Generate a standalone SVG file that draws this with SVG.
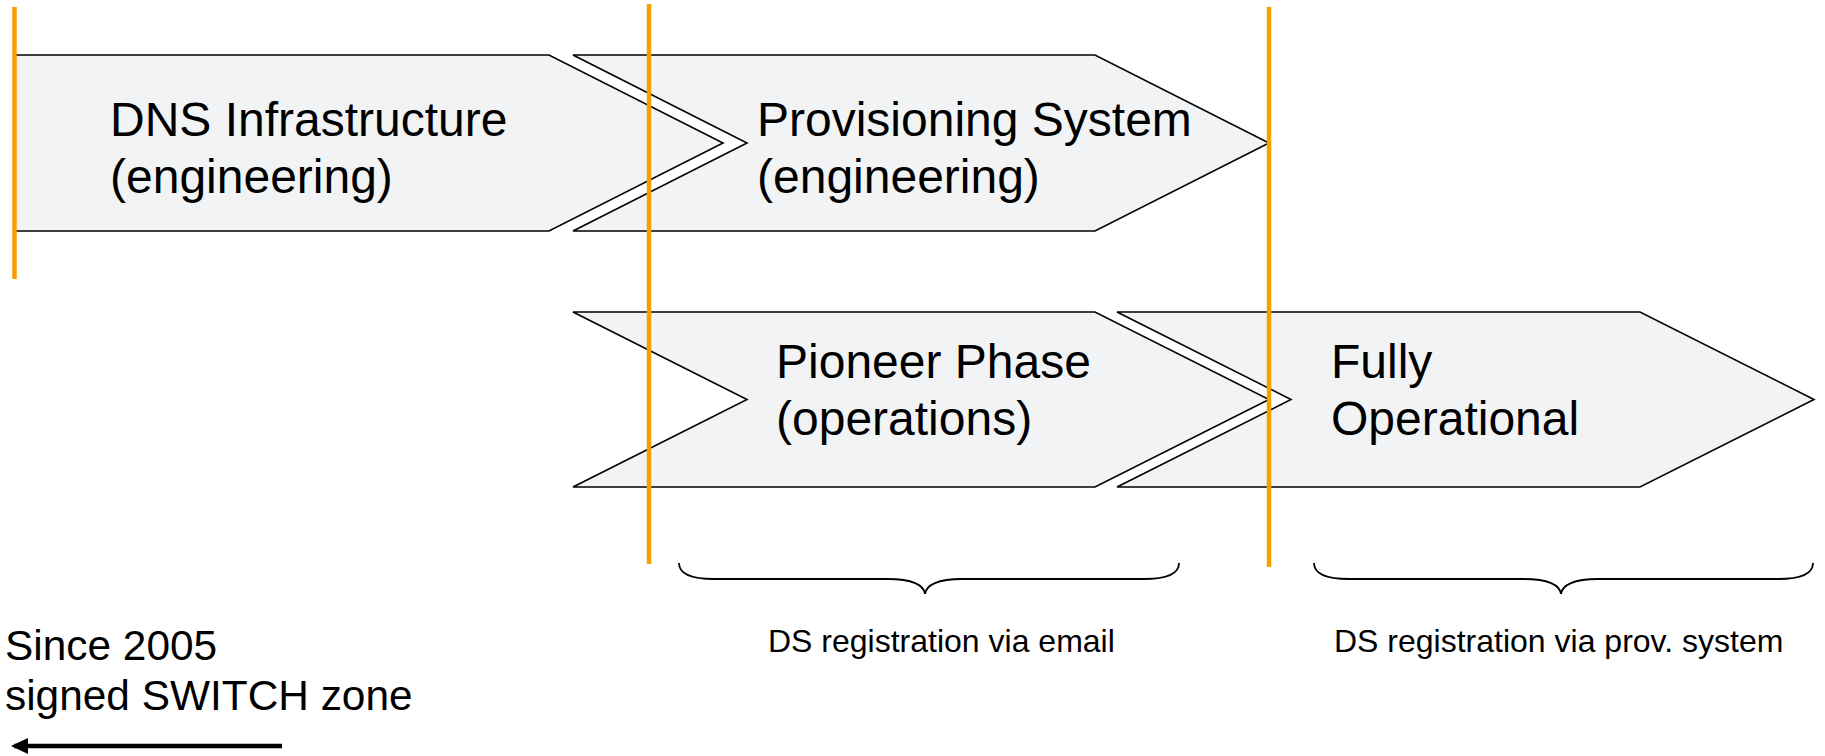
<svg xmlns="http://www.w3.org/2000/svg" width="1825" height="756" viewBox="0 0 1825 756">
  <style>
    .phase { fill: #F2F3F5; stroke: #000; stroke-width: 1.6; stroke-linejoin: miter; }
    .big { font-family: "Liberation Sans", Arial, sans-serif; font-size: 48px; fill: #000; }
    .small { font-family: "Liberation Sans", Arial, sans-serif; font-size: 32px; fill: #000; }
    .note { font-family: "Liberation Sans", Arial, sans-serif; font-size: 42.4px; fill: #000; }
    .brace { fill: none; stroke: #000; stroke-width: 1.8; }
    .milestone { stroke: #F59F00; stroke-width: 4.5; }
  </style>
  <defs>
    <marker id="head" markerUnits="userSpaceOnUse" markerWidth="18" markerHeight="20" refX="14" refY="9" orient="auto">
      <path d="M0,1 L17,9 L0,17 Z" fill="#000"/>
    </marker>
  </defs>

  <rect width="1825" height="756" fill="#fff"/>

  <!-- phase chevrons -->
  <g id="dns-infrastructure">
    <path class="phase" d="M15,55 H549 L723,143 L549,231 H15 Z"/>
    <text class="big" x="110" y="136">DNS Infrastructure</text>
    <text class="big" x="110" y="193">(engineering)</text>
  </g>
  <g id="provisioning-system">
    <path class="phase" d="M573,55 H1095 L1269,143 L1095,231 H573 L747,143 Z"/>
    <text class="big" x="757" y="136">Provisioning System</text>
    <text class="big" x="757" y="193">(engineering)</text>
  </g>
  <g id="pioneer-phase">
    <path class="phase" d="M573,312 H1095 L1269,399.5 L1095,487 H573 L747,399.5 Z"/>
    <text class="big" x="776" y="378">Pioneer Phase</text>
    <text class="big" x="776" y="435">(operations)</text>
  </g>
  <g id="fully-operational">
    <path class="phase" d="M1117,312 H1640 L1814,399.5 L1640,487 H1117 L1291,399.5 Z"/>
    <text class="big" x="1331" y="378">Fully</text>
    <text class="big" x="1331" y="435">Operational</text>
  </g>

  <!-- milestone markers -->
  <g id="milestones">
    <line class="milestone" x1="14.5" y1="7" x2="14.5" y2="279"/>
    <line class="milestone" x1="649" y1="4" x2="649" y2="564"/>
    <line class="milestone" x1="1269" y1="7" x2="1269" y2="567"/>
  </g>

  <!-- registration spans -->
  <g id="email-registration">
    <path class="brace" d="M679,563 C679,573 690,579 714,579 H888 C912,579 924,585 925,594 C926,585 938,579 962,579 H1144 C1168,579 1179,573 1179,563"/>
    <text class="small" x="768" y="652">DS registration via email</text>
  </g>
  <g id="system-registration">
    <path class="brace" d="M1314,563 C1314,573 1325,579 1349,579 H1524 C1548,579 1560,585 1561,594 C1562,585 1574,579 1598,579 H1778 C1802,579 1813,573 1813,563"/>
    <text class="small" x="1334" y="652">DS registration via prov. system</text>
  </g>

  <g id="signed-zone">
    <text class="note" x="5" y="660">Since 2005</text>
    <text class="note" x="5" y="710">signed SWITCH zone</text>
  </g>

  <!-- connectors -->
  <g id="connectors">
    <line x1="282" y1="746" x2="14" y2="746" stroke="#000" stroke-width="4.5" marker-end="url(#head)"/>
  </g>
</svg>
